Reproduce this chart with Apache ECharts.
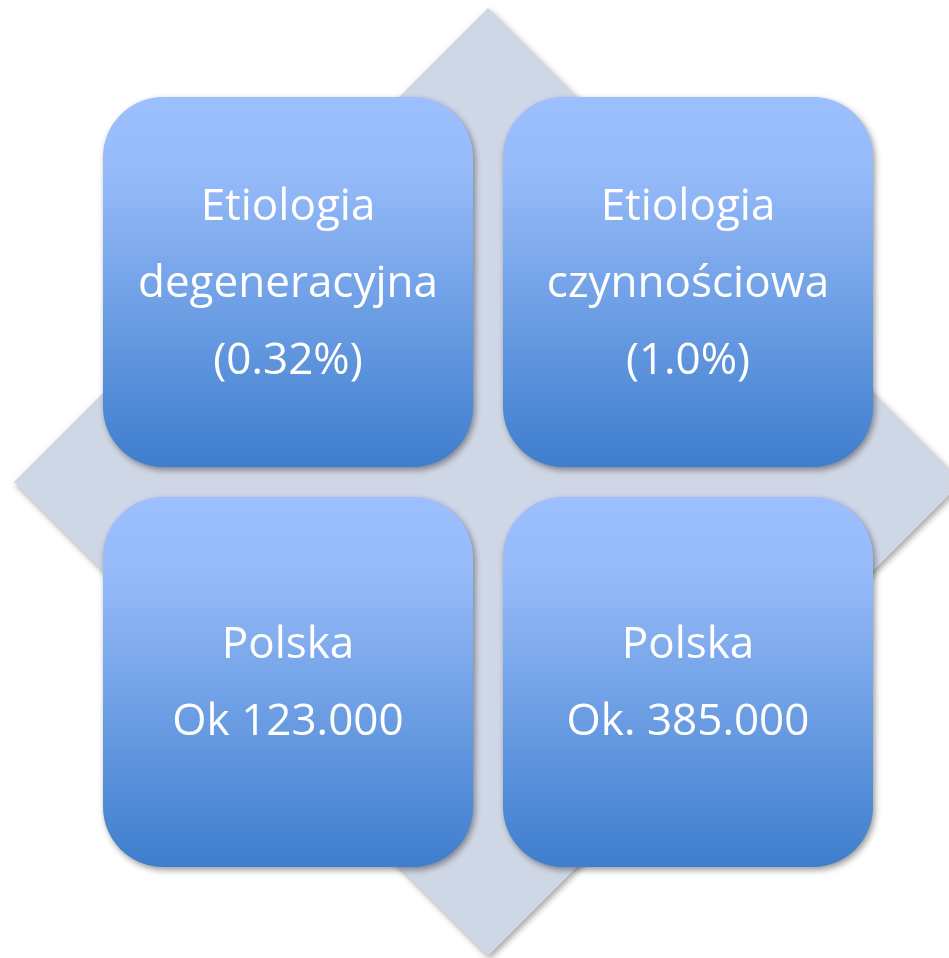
<!DOCTYPE html>
<html>
<head>
<meta charset="utf-8">
<style>
  html, body { margin: 0; padding: 0; background: #fff; }
  #main { width: 949px; height: 958px; }
</style>
<script src="https://cdn.jsdelivr.net/npm/echarts@6/dist/echarts.min.js"></script>
</head>
<body>
<div id="main"></div>
<script>
// pola diagramu (2x2) i ich opisy
var labels = [
    'Etiologia\ndegeneracyjna\n(0.32%)',
    'Etiologia\nczynnościowa\n(1.0%)',
    'Polska\nOk 123.000',
    'Polska\nOk. 385.000'
];
var colIndex = [0.5, 1.5, 0.5, 1.5];
var rowIndex = [1.5, 1.5, 0.5, 0.5];

// romb w tle - środek siatki
var diamondCenter = [1, 1];

var chart = echarts.init(document.getElementById('main'));

// zaokrąglony kwadrat 370x370, promień 60
var k = 33;
var roundSquare = 'path://M60,0 L310,0 C' + (310 + k) + ',0 370,' + (60 - k) + ' 370,60 ' +
    'L370,310 C370,' + (310 + k) + ' ' + (310 + k) + ',370 310,370 ' +
    'L60,370 C' + (60 - k) + ',370 0,' + (310 + k) + ' 0,310 ' +
    'L0,60 C0,' + (60 - k) + ' ' + (60 - k) + ',0 60,0 Z';

var boxData = labels.map(function (name, i) {
    return { name: name, value: [colIndex[i], rowIndex[i]] };
});

var option = {
    animation: false,
    grid: { left: 88, top: 82, width: 800, height: 800 },
    xAxis: { type: 'value', min: 0, max: 2, show: false },
    yAxis: { type: 'value', min: 0, max: 2, show: false },
    series: [
        {
            type: 'scatter',
            symbol: 'diamond',
            symbolSize: [948, 948],
            silent: true,
            itemStyle: {
                color: '#cfd6e6',
                opacity: 1,
                shadowColor: 'rgba(0,0,0,0.35)',
                shadowBlur: 6,
                shadowOffsetX: 2,
                shadowOffsetY: 3
            },
            data: [diamondCenter]
        },
        {
            type: 'scatter',
            symbol: roundSquare,
            symbolSize: [370, 370],
            silent: true,
            itemStyle: {
                opacity: 1,
                color: {
                    type: 'linear', x: 0, y: 0, x2: 0, y2: 1,
                    colorStops: [
                        { offset: 0, color: '#9cc0fe' },
                        { offset: 0.2, color: '#97bbf9' },
                        { offset: 1, color: '#3e7ecd' }
                    ]
                },
                shadowColor: 'rgba(0,0,0,0.4)',
                shadowBlur: 6,
                shadowOffsetX: 2,
                shadowOffsetY: 3
            },
            label: {
                show: true,
                position: 'inside',
                offset: [0, 2],
                formatter: '{b}',
                color: '#fff',
                fontFamily: 'Open Sans',
                fontSize: 44,
                lineHeight: 77,
                align: 'center'
            },
            data: boxData
        }
    ]
};

chart.setOption(option);
</script>
</body>
</html>
